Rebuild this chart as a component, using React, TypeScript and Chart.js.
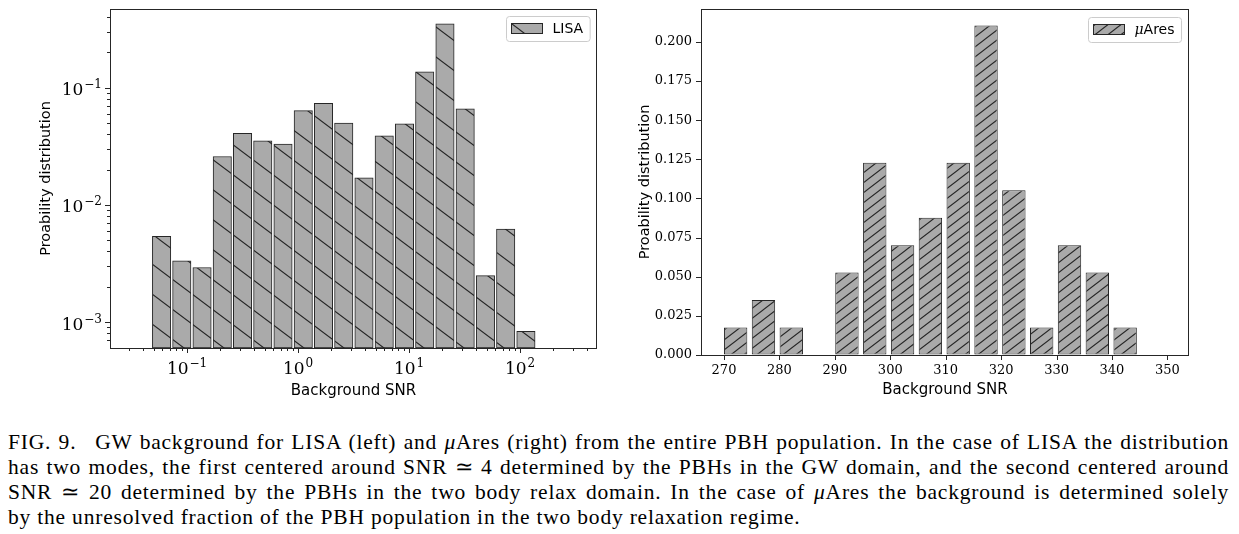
import React, { useEffect, useRef } from 'react';
import { Chart, registerables } from 'chart.js';

Chart.register(...registerables);

// ---------------- data ----------------
// LISA histogram: bin centres (log-spaced) and probability per bin
const lisaSNR = [0.0589, 0.0896, 0.1364, 0.2076, 0.3159, 0.4808, 0.7317, 1.114, 1.695, 2.58, 3.926, 5.976, 9.095, 13.84, 21.07, 32.06, 48.8, 74.27, 113.0];
const lisaProb = [0.0054, 0.00333, 0.00292, 0.0259, 0.0408, 0.0352, 0.033, 0.0637, 0.0736, 0.05, 0.017, 0.0388, 0.0491, 0.137, 0.351, 0.0659, 0.00249, 0.00622, 0.000834];
const lisaXMajorTicks = [0.1, 1, 10, 100];
const lisaXMinorTicks = [0.03, 0.04, 0.05, 0.06, 0.07, 0.08, 0.09, 0.2, 0.3, 0.4, 0.5, 0.6, 0.7, 0.8, 0.9, 2, 3, 4, 5, 6, 7, 8, 9, 20, 30, 40, 50, 60, 70, 80, 90, 200, 300, 400];
const lisaYMajorTicks = [0.001, 0.01, 0.1];
const lisaYMinorTicks = [0.0007, 0.0008, 0.0009, 0.002, 0.003, 0.004, 0.005, 0.006, 0.007, 0.008, 0.009, 0.02, 0.03, 0.04, 0.05, 0.06, 0.07, 0.08, 0.09, 0.2, 0.3, 0.4];

// muAres histogram: bin centres and probability per bin
const aresSNR = [272.1, 277.12, 282.14, 287.16, 292.18, 297.2, 302.22, 307.24, 312.26, 317.28, 322.3, 327.32, 332.34, 337.36, 342.38, 347.4];
const aresProb = [0.01754, 0.03509, 0.01754, 0, 0.05263, 0.12281, 0.07018, 0.08772, 0.12281, 0.21053, 0.10526, 0.01754, 0.07018, 0.05263, 0.01754, 0];
const aresXTicks = [270, 280, 290, 300, 310, 320, 330, 340, 350];
const aresYTicks = [0, 0.025, 0.05, 0.075, 0.1, 0.125, 0.15, 0.175, 0.2];

const xTitle = 'Background SNR';
const yTitle = 'Proability distribution';

// ---------------- helpers ----------------
function powExponent(v: number): string {
  const e = Math.round(Math.log10(v));
  return e < 0 ? '\u2212' + String(-e) : String(e);
}

const FILL = '#aaaaaa';
const EDGE = '#262626';
const BASE_FONT = '17px "DejaVu Serif"';
const EXP_FONT = '12px "DejaVu Serif"';

function makeHatch(ctx: CanvasRenderingContext2D, dir: 'back' | 'fwd', W: number, H: number): CanvasPattern {
  const off = document.createElement('canvas');
  off.width = W;
  off.height = H;
  const g = off.getContext('2d')!;
  g.fillStyle = FILL;
  g.fillRect(0, 0, W, H);
  g.strokeStyle = EDGE;
  g.lineWidth = 1.1;
  g.beginPath();
  for (const k of [-1, 0, 1]) {
    if (dir === 'back') {
      g.moveTo(-W, -H + k * H);
      g.lineTo(2 * W, 2 * H + k * H);
    } else {
      g.moveTo(-W, 2 * H + k * H);
      g.lineTo(2 * W, -H + k * H);
    }
  }
  g.stroke();
  return ctx.createPattern(off, 'repeat')!;
}

type Part = { text: string; font: string };

function drawPow(ctx: CanvasRenderingContext2D, v: number, x: number, baseline: number, align: 'center' | 'right') {
  const exp = powExponent(v);
  ctx.font = BASE_FONT;
  const bw = ctx.measureText('10').width;
  ctx.font = EXP_FONT;
  const ew = ctx.measureText(exp).width;
  const total = bw + 1 + ew;
  const x0 = align === 'center' ? x - total / 2 : x - total;
  ctx.textAlign = 'left';
  ctx.textBaseline = 'alphabetic';
  ctx.fillStyle = '#000';
  ctx.font = BASE_FONT;
  ctx.fillText('10', x0, baseline);
  ctx.font = EXP_FONT;
  ctx.fillText(exp, x0 + bw + 1, baseline - 7);
}

function makeDecor(cfg: { xMajor: number[] | null; yMajor: number[] | null; powLabels: boolean; legend: Part[]; pattern: CanvasPattern; legendMargin: number }) {
  return {
    id: 'decor',
    afterDraw(chart: any) {
      const { ctx, chartArea: a } = chart;
      const xs = chart.scales.x;
      const ys = chart.scales.y;
      ctx.save();
      ctx.strokeStyle = EDGE;
      ctx.lineWidth = 1;
      ctx.beginPath();
      for (const t of xs.ticks) {
        const p = Math.round(xs.getPixelForValue(t.value)) + 0.5;
        const len = !cfg.xMajor || cfg.xMajor.includes(t.value) ? 5 : 3;
        ctx.moveTo(p, a.bottom);
        ctx.lineTo(p, a.bottom + len);
      }
      for (const t of ys.ticks) {
        const p = Math.round(ys.getPixelForValue(t.value)) + 0.5;
        const len = !cfg.yMajor || cfg.yMajor.includes(t.value) ? 5 : 3;
        ctx.moveTo(a.left, p);
        ctx.lineTo(a.left - len, p);
      }
      ctx.stroke();
      ctx.strokeRect(Math.round(a.left) + 0.5, Math.round(a.top) + 0.5, Math.round(a.width) - 1, Math.round(a.height));

      // power-of-ten tick labels with real superscripts
      if (cfg.powLabels) {
        for (const v of cfg.xMajor || []) {
          drawPow(ctx, v, xs.getPixelForValue(v), a.bottom + 26, 'center');
        }
        for (const v of cfg.yMajor || []) {
          drawPow(ctx, v, a.left - 8, ys.getPixelForValue(v) + 7.5, 'right');
        }
      }

      // legend
      let tw = 0;
      for (const p of cfg.legend) {
        ctx.font = p.font;
        tw += ctx.measureText(p.text).width;
      }
      const boxW = 5 + 31 + 10 + tw + 7;
      const boxH = 25;
      const bx = Math.round(a.right - cfg.legendMargin - boxW) + 0.5;
      const by = Math.round(a.top + cfg.legendMargin) + 0.5;
      ctx.beginPath();
      ctx.roundRect(bx, by, boxW, boxH, 3);
      ctx.fillStyle = 'rgba(255,255,255,0.8)';
      ctx.fill();
      ctx.strokeStyle = '#cccccc';
      ctx.stroke();
      ctx.fillStyle = cfg.pattern;
      ctx.fillRect(bx + 5, by + 7, 31, 10);
      ctx.strokeStyle = EDGE;
      ctx.strokeRect(bx + 5, by + 7, 31, 10);
      let tx = bx + 46;
      ctx.fillStyle = '#000';
      ctx.textAlign = 'left';
      ctx.textBaseline = 'middle';
      for (const p of cfg.legend) {
        ctx.font = p.font;
        ctx.fillText(p.text, tx, by + boxH / 2);
        tx += ctx.measureText(p.text).width;
      }
      ctx.restore();
    },
  };
}

function zeroPad(s: any) {
  s.paddingTop = 0;
  s.paddingBottom = 0;
  s.paddingLeft = 0;
  s.paddingRight = 0;
}

const gridOpts = { display: true, drawOnChartArea: false, drawTicks: true, tickLength: 5, color: 'rgba(0,0,0,0)', offset: false };

function lisaConfig(ctx: CanvasRenderingContext2D): any {
  const pattern = makeHatch(ctx, 'back', 40, 30);
  const xTicks = [...lisaXMajorTicks, ...lisaXMinorTicks].sort((p, q) => p - q);
  const yTicks = [...lisaYMajorTicks, ...lisaYMinorTicks].sort((p, q) => p - q);
  return {
    type: 'bar',
    data: {
      datasets: [
        {
          label: 'LISA',
          data: lisaSNR.map((x, i) => ({ x, y: lisaProb[i] })),
          backgroundColor: pattern,
          borderColor: EDGE,
          borderWidth: 1,
          borderSkipped: false,
          barThickness: 18.4,
        },
      ],
    },
    options: {
      animation: false,
      responsive: false,
      events: [],
      layout: { padding: { left: 0, top: 9, right: 23, bottom: 0 } },
      plugins: { legend: { display: false }, tooltip: { enabled: false } },
      scales: {
        x: {
          type: 'logarithmic',
          offset: false,
          min: 0.0202,
          max: 494,
          afterBuildTicks: (s: any) => {
            s.ticks = xTicks.map((v) => ({ value: v }));
          },
          afterFit: (s: any) => {
            s.height = 62;
            zeroPad(s);
          },
          grid: gridOpts,
          border: { display: false },
          ticks: { display: false, autoSkip: false },
          title: { display: true, text: xTitle, color: '#000', font: { family: 'DejaVu Sans', size: 15 }, padding: { top: 0, bottom: 10 } },
        },
        y: {
          type: 'logarithmic',
          min: 0.0006125,
          max: 0.47,
          afterBuildTicks: (s: any) => {
            s.ticks = yTicks.map((v) => ({ value: v }));
          },
          afterFit: (s: any) => {
            s.width = 110;
            zeroPad(s);
          },
          grid: gridOpts,
          border: { display: false },
          ticks: { display: false, autoSkip: false },
          title: { display: true, text: yTitle, color: '#000', font: { family: 'DejaVu Sans', size: 14.5 }, padding: { top: 38, bottom: 0 } },
        },
      },
    },
    plugins: [
      makeDecor({
        xMajor: lisaXMajorTicks,
        yMajor: lisaYMajorTicks,
        powLabels: true,
        legend: [{ text: 'LISA', font: '14px "DejaVu Sans"' }],
        pattern,
        legendMargin: 7,
      }),
    ],
  };
}

function aresConfig(ctx: CanvasRenderingContext2D): any {
  const pattern = makeHatch(ctx, 'fwd', 13, 10);
  return {
    type: 'bar',
    data: {
      datasets: [
        {
          label: '\u03BCAres',
          data: aresSNR.map((x, i) => ({ x, y: aresProb[i] })),
          backgroundColor: pattern,
          borderColor: EDGE,
          borderWidth: 1,
          borderSkipped: false,
          categoryPercentage: 1,
          barPercentage: 0.84,
        },
      ],
    },
    options: {
      animation: false,
      responsive: false,
      events: [],
      layout: { padding: { left: 0, top: 9, right: 50, bottom: 0 } },
      plugins: { legend: { display: false }, tooltip: { enabled: false } },
      scales: {
        x: {
          type: 'linear',
          offset: false,
          min: 265.85,
          max: 353.9,
          afterBuildTicks: (s: any) => {
            s.ticks = aresXTicks.map((v) => ({ value: v }));
          },
          afterFit: (s: any) => {
            s.height = 55;
            zeroPad(s);
          },
          grid: gridOpts,
          border: { display: false },
          ticks: {
            autoSkip: false,
            maxRotation: 0,
            minRotation: 0,
            padding: 3,
            color: '#000',
            font: { family: 'DejaVu Serif', size: 13 },
            callback: (v: number) => String(v),
          },
          title: { display: true, text: xTitle, color: '#000', font: { family: 'DejaVu Sans', size: 15 }, padding: { top: 0, bottom: 11 } },
        },
        y: {
          type: 'linear',
          min: 0,
          max: 0.221,
          afterBuildTicks: (s: any) => {
            s.ticks = aresYTicks.map((v) => ({ value: v }));
          },
          afterFit: (s: any) => {
            s.width = 81;
            zeroPad(s);
          },
          grid: gridOpts,
          border: { display: false },
          ticks: {
            autoSkip: false,
            padding: 4,
            color: '#000',
            font: { family: 'DejaVu Serif', size: 13 },
            callback: (v: number) => v.toFixed(3),
          },
          title: { display: true, text: yTitle, color: '#000', font: { family: 'DejaVu Sans', size: 14.5 }, padding: { top: 17, bottom: 0 } },
        },
      },
    },
    plugins: [
      makeDecor({
        xMajor: null,
        yMajor: null,
        powLabels: false,
        legend: [
          { text: '\u03BC', font: 'italic 14px "DejaVu Serif"' },
          { text: 'Ares', font: '14px "DejaVu Sans"' },
        ],
        pattern,
        legendMargin: 7.5,
      }),
    ],
  };
}

function HistChart(props: { build: (ctx: CanvasRenderingContext2D) => any; left: number; width: number; height: number }) {
  const ref = useRef<HTMLCanvasElement>(null);
  useEffect(() => {
    const c = ref.current!;
    const chart = new Chart(c, props.build(c.getContext('2d')!));
    return () => chart.destroy();
  }, []);
  return (
    <canvas
      ref={ref}
      width={props.width}
      height={props.height}
      style={{ position: 'absolute', left: props.left, top: 0, width: props.width, height: props.height }}
    />
  );
}

const captionLines = [
  'FIG. 9.\u2002 GW background for LISA (left) and |\u03BC|Ares (right) from the entire PBH population.  In the case of LISA the distribution',
  'has two modes, the first centered around SNR \u2243 4 determined by the PBHs in the GW domain, and the second centered around',
  'SNR \u2243 20 determined by the PBHs in the two body relax domain.  In the case of |\u03BC|Ares the background is determined solely',
  'by the unresolved fraction of the PBH population in the two body relaxation regime.',
];

function renderLine(s: string) {
  return s.split('|').map((seg, i) => (i % 2 === 1 ? <i key={i}>{seg}</i> : <React.Fragment key={i}>{seg}</React.Fragment>));
}

export default function App() {
  return (
    <div style={{ position: 'absolute', left: 0, top: 0, width: 1239, height: 534, background: '#fff', overflow: 'hidden' }}>
      <HistChart build={lisaConfig} left={0} width={620} height={410} />
      <HistChart build={aresConfig} left={620} width={619} height={410} />
      <div
        style={{
          position: 'absolute',
          left: 8,
          top: 430,
          width: 1221,
          fontFamily: '"Liberation Serif", serif',
          fontSize: 21.5,
          letterSpacing: '0.8px',
          lineHeight: '25px',
          color: '#000',
        }}
      >
        {captionLines.map((l, i) => (
          <div key={i} style={{ textAlign: 'justify', textAlignLast: i < captionLines.length - 1 ? 'justify' : 'left', whiteSpace: 'normal' }}>
            {renderLine(l)}
          </div>
        ))}
      </div>
    </div>
  );
}
